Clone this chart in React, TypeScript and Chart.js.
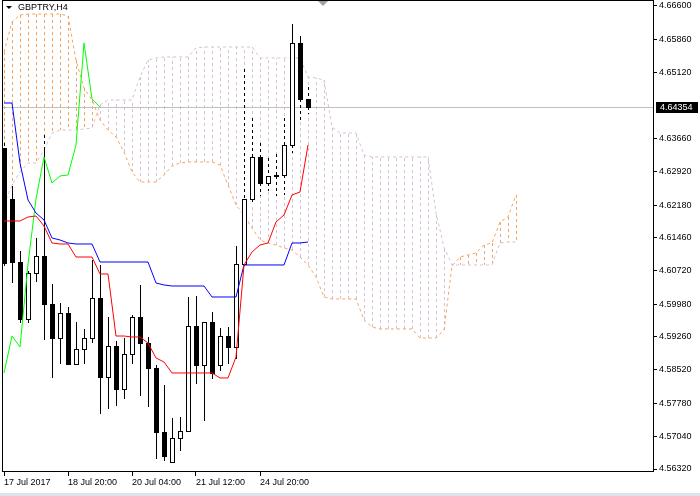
import React, { useEffect, useRef } from 'react';
import { Chart, registerables } from 'chart.js';

Chart.register(...registerables);

const chartTitle = 'GBPTRY,H4';
const xTickIndex = [0, 8, 16, 24, 32];
const xTickLabels = ['17 Jul 2017', '18 Jul 20:00', '20 Jul 04:00', '21 Jul 12:00', '24 Jul 20:00'];
const yTickValues = [4.666, 4.6586, 4.6512, 4.6366, 4.6292, 4.6218, 4.6146, 4.6072, 4.5998, 4.5926, 4.5852, 4.5778, 4.5704, 4.5632];
const currentPrice = 4.64354;
const chikouShift = 26;

const opens = [4.63447, 4.62315, 4.60916, 4.59651, 4.60672, 4.6105, 4.59984, 4.59229, 4.59784, 4.58652, 4.58985, 4.59229, 4.60117, 4.58363, 4.59051, 4.58097, 4.58874, 4.59695, 4.59118, 4.58563, 4.57142, 4.56476, 4.57009, 4.57164, 4.59495, 4.5863, 4.59584, 4.5863, 4.59273, 4.59029, 4.60872, 4.62315, 4.63248, 4.6267, 4.62826, 4.62848, 4.63514, 4.65779, 4.64535];
const highs = [4.63558, 4.62604, 4.61161, 4.60717, 4.61449, 4.63736, 4.60428, 4.60006, 4.59917, 4.59584, 4.59429, 4.60961, 4.6085, 4.59695, 4.59162, 4.59229, 4.5974, 4.60406, 4.59251, 4.5863, 4.58185, 4.57453, 4.57475, 4.60139, 4.60161, 4.59584, 4.59806, 4.59451, 4.59473, 4.61272, 4.65201, 4.64113, 4.63558, 4.63225, 4.63314, 4.64113, 4.662, 4.65934, 4.64802];
const lows = [4.6085, 4.60472, 4.59584, 4.59584, 4.60494, 4.59207, 4.58363, 4.58674, 4.58652, 4.58652, 4.58674, 4.5914, 4.57564, 4.57675, 4.57741, 4.57897, 4.58674, 4.57963, 4.57719, 4.56565, 4.5652, 4.56476, 4.56742, 4.57164, 4.5823, 4.57408, 4.58341, 4.58519, 4.58674, 4.58785, 4.6085, 4.62226, 4.62404, 4.62515, 4.62404, 4.62426, 4.63359, 4.64069, 4.64224];
const closes = [4.60894, 4.60916, 4.59651, 4.60672, 4.6105, 4.59984, 4.59229, 4.59784, 4.58652, 4.58985, 4.59229, 4.60117, 4.58363, 4.59051, 4.58097, 4.58874, 4.59695, 4.59118, 4.58563, 4.57142, 4.56609, 4.57009, 4.57164, 4.59495, 4.5863, 4.59584, 4.58452, 4.59273, 4.59029, 4.60872, 4.62315, 4.63248, 4.6267, 4.62826, 4.62848, 4.63514, 4.65779, 4.64535, 4.64354];

const tenkan = [4.61827, 4.61827, 4.61827, 4.61915, 4.61938, 4.61716, 4.61338, 4.61316, 4.61316, 4.61027, 4.61027, 4.61027, 4.6065, 4.6065, 4.59273, 4.59273, 4.59251, 4.59251, 4.59118, 4.58785, 4.58696, 4.58452, 4.58452, 4.58452, 4.58452, 4.58452, 4.58452, 4.58341, 4.58341, 4.58807, 4.6085, 4.61138, 4.61294, 4.61338, 4.61804, 4.6196, 4.62404, 4.6247, 4.63514];
const kijun = [4.64446, 4.64446, 4.63114, 4.62293, 4.62004, 4.61849, 4.61449, 4.61405, 4.61338, 4.61316, 4.61316, 4.61316, 4.60916, 4.60916, 4.60916, 4.60916, 4.60916, 4.60916, 4.60916, 4.6045, 4.60406, 4.60383, 4.60383, 4.60383, 4.60383, 4.60383, 4.60139, 4.60139, 4.60139, 4.60139, 4.6085, 4.6085, 4.6085, 4.6085, 4.6085, 4.6085, 4.61338, 4.61338, 4.6136];
const spanA = [4.65579, 4.66245, 4.664, 4.66422, 4.66422, 4.66422, 4.66422, 4.66422, 4.66378, 4.65401, 4.64779, 4.64513, 4.64069, 4.63847, 4.63692, 4.63359, 4.62915, 4.62692, 4.62692, 4.62692, 4.62848, 4.63048, 4.63114, 4.63137, 4.63137, 4.63137, 4.63137, 4.6307, 4.62626, 4.62182, 4.6196, 4.61671, 4.61405, 4.61338, 4.61294, 4.61227, 4.61183, 4.61027, 4.6085, 4.60583, 4.60139, 4.60095, 4.60095, 4.60095, 4.60095, 4.59629, 4.59473, 4.59429, 4.59429, 4.59429, 4.59429, 4.59429, 4.59229, 4.59229, 4.59229, 4.59407, 4.60828, 4.61027, 4.61072, 4.61116, 4.61294, 4.61338, 4.61804, 4.61915, 4.62404];
const spanB = [4.62182, 4.62626, 4.62915, 4.63114, 4.63114, 4.63403, 4.6378, 4.63847, 4.63847, 4.63847, 4.63869, 4.63891, 4.64402, 4.64513, 4.64513, 4.64513, 4.64513, 4.65024, 4.65401, 4.65446, 4.65468, 4.65468, 4.65468, 4.65468, 4.65668, 4.6569, 4.6569, 4.6569, 4.6569, 4.6569, 4.6569, 4.6569, 4.65446, 4.65446, 4.65446, 4.65446, 4.65446, 4.65446, 4.65024, 4.65002, 4.64957, 4.63914, 4.6378, 4.6378, 4.6378, 4.63292, 4.63248, 4.63248, 4.63248, 4.63248, 4.63248, 4.63248, 4.63248, 4.63248, 4.62004, 4.61249, 4.6085, 4.6085, 4.6085, 4.6085, 4.6085, 4.6085, 4.61338, 4.6136, 4.6136];

const SANDY = '#F4A460';
const THISTLE = '#D8BFD8';
const FONT = '"Liberation Sans", Arial, sans-serif';

function pts(arr: number[]) {
  return arr.map((v, i) => ({ x: i, y: v }));
}

export default function App() {
  const ref = useRef<HTMLCanvasElement>(null);

  useEffect(() => {
    document.body.style.margin = '0';
    const canvas = ref.current!;
    const chikou = closes.slice(chikouShift).map((v, j) => ({ x: j, y: v }));

    const plugin = {
      id: 'ichimokuDraw',
      beforeDatasetsDraw(chart: any) {
        const { ctx, chartArea: a, scales } = chart;
        const x = scales.x, y = scales.y;
        ctx.save();
        ctx.beginPath();
        ctx.rect(a.left, a.top, a.right - a.left, a.bottom - a.top);
        ctx.clip();
        ctx.lineWidth = 1;
        ctx.setLineDash([3, 3]);
        for (let i = 0; i < spanA.length; i++) {
          const px = Math.round(x.getPixelForValue(i)) + 0.5;
          const ya = Math.round(y.getPixelForValue(spanA[i]));
          const yb = Math.round(y.getPixelForValue(spanB[i]));
          ctx.strokeStyle = spanA[i] > spanB[i] ? SANDY : THISTLE;
          ctx.beginPath();
          ctx.moveTo(px, ya);
          ctx.lineTo(px, yb);
          ctx.stroke();
        }
        ctx.restore();
      },
      afterDatasetDraw(chart: any, args: any) {
        if (args.index !== 3) return;
        const { ctx, chartArea: a, scales } = chart;
        const x = scales.x, y = scales.y;
        ctx.save();
        ctx.beginPath();
        ctx.rect(a.left, a.top, a.right - a.left, a.bottom - a.top);
        ctx.clip();
        const py = Math.round(y.getPixelForValue(currentPrice)) + 0.5;
        ctx.strokeStyle = '#c0c0c0';
        ctx.lineWidth = 1;
        ctx.beginPath();
        ctx.moveTo(a.left, py);
        ctx.lineTo(a.right, py);
        ctx.stroke();

        const seg = (cx: number, y1: number, y2: number, cTop: number, cBot: number) => {
          if (y2 <= y1) return;
          const parts: [number, number, boolean][] = [];
          const inTop = Math.max(y1, cTop);
          const inBot = Math.min(y2, cBot);
          if (y1 < cTop) parts.push([y1, Math.min(y2, cTop), false]);
          if (inBot > inTop) parts.push([inTop, inBot, true]);
          if (y2 > cBot) parts.push([Math.max(y1, cBot), y2, false]);
          for (const [s, e, dashed] of parts) {
            if (dashed) {
              ctx.setLineDash([]);
              ctx.strokeStyle = '#ffffff';
              ctx.beginPath(); ctx.moveTo(cx, s); ctx.lineTo(cx, e); ctx.stroke();
              ctx.setLineDash([3, 3]);
            } else {
              ctx.setLineDash([]);
            }
            ctx.strokeStyle = '#000000';
            ctx.beginPath(); ctx.moveTo(cx, s); ctx.lineTo(cx, e); ctx.stroke();
          }
          ctx.setLineDash([]);
        };

        for (let i = 0; i < closes.length; i++) {
          const X = Math.round(x.getPixelForValue(i));
          const cx = X + 0.5;
          const yO = Math.round(y.getPixelForValue(opens[i]));
          const yC = Math.round(y.getPixelForValue(closes[i]));
          const yH = Math.round(y.getPixelForValue(highs[i]));
          const yL = Math.round(y.getPixelForValue(lows[i]));
          const bTop = Math.min(yO, yC), bBot = Math.max(yO, yC);
          const cTop = Math.round(y.getPixelForValue(Math.max(spanA[i], spanB[i])));
          const cBot = Math.round(y.getPixelForValue(Math.min(spanA[i], spanB[i])));
          seg(cx, yH, bTop, cTop, cBot);
          seg(cx, bBot, yL + 1, cTop, cBot);
          if (closes[i] < opens[i]) {
            ctx.fillStyle = '#000000';
            ctx.fillRect(X - 2, bTop, 5, Math.max(1, bBot - bTop + 1));
          } else {
            ctx.fillStyle = '#ffffff';
            ctx.fillRect(X - 2, bTop, 5, Math.max(1, bBot - bTop + 1));
            ctx.strokeStyle = '#000000';
            ctx.strokeRect(X - 1.5, bTop + 0.5, 4, Math.max(0, bBot - bTop));
          }
        }
        ctx.restore();
      },
      afterDraw(chart: any) {
        const { ctx, chartArea: a, scales } = chart;
        const y = scales.y;
        ctx.save();
        ctx.strokeStyle = '#000000';
        ctx.lineWidth = 1;
        ctx.setLineDash([]);
        ctx.strokeRect(a.left - 0.5, a.top - 0.5, a.right - a.left + 1, a.bottom - a.top + 1);
        ctx.fillStyle = '#000000';
        ctx.beginPath();
        ctx.moveTo(6, 6); ctx.lineTo(12, 6); ctx.lineTo(9, 9); ctx.closePath();
        ctx.fill();
        ctx.font = '9px ' + FONT;
        ctx.textBaseline = 'middle';
        ctx.textAlign = 'left';
        ctx.fillText(chartTitle, 18, 8);
        ctx.fillStyle = '#a0a0a0';
        ctx.beginPath();
        ctx.moveTo(318, 1); ctx.lineTo(328, 1); ctx.lineTo(323, 6); ctx.closePath();
        ctx.fill();
        const py = Math.round(y.getPixelForValue(currentPrice));
        ctx.fillStyle = '#000000';
        ctx.fillRect(a.right + 3, py - 5, 42, 11);
        ctx.fillStyle = '#ffffff';
        ctx.fillText(currentPrice.toFixed(5), a.right + 7, py + 0.5);
        ctx.fillStyle = '#dde3ea';
        ctx.fillRect(0, 493, 700, 3);
        ctx.restore();
      },
    };

    const tickFont = { family: FONT, size: 9 };

    const chart = new Chart(canvas, {
      type: 'line',
      data: {
        datasets: [
          { label: 'Tenkan-sen', data: pts(tenkan), borderColor: '#ff0000', borderWidth: 1, pointRadius: 0, tension: 0, order: 1 },
          { label: 'Kijun-sen', data: pts(kijun), borderColor: '#0000ff', borderWidth: 1, pointRadius: 0, tension: 0, order: 1 },
          { label: 'Chikou Span', data: chikou, borderColor: '#00ff00', borderWidth: 1, pointRadius: 0, tension: 0, order: 1 },
          { label: 'Senkou Span A', data: pts(spanA), borderColor: SANDY, borderWidth: 1, borderDash: [3, 3], pointRadius: 0, tension: 0, order: 2 },
          { label: 'Senkou Span B', data: pts(spanB), borderColor: THISTLE, borderWidth: 1, borderDash: [3, 3], pointRadius: 0, tension: 0, order: 2 },
        ],
      } as any,
      options: {
        animation: false,
        responsive: false,
        maintainAspectRatio: false,
        layout: { padding: { left: 3, top: 1, right: 0, bottom: 0 } },
        plugins: { legend: { display: false }, tooltip: { enabled: false } },
        scales: {
          x: {
            type: 'linear',
            position: 'bottom',
            min: -0.125,
            max: 81.125,
            afterBuildTicks: (s: any) => { s.ticks = xTickIndex.map((v) => ({ value: v })); },
            afterFit: (s: any) => { s.height = 25; s.paddingLeft = 0; s.paddingRight = 0; },
            ticks: {
              callback: (v: any) => { const k = xTickIndex.indexOf(Number(v)); return k >= 0 ? xTickLabels[k] : ''; },
              align: 'start',
              maxRotation: 0,
              minRotation: 0,
              autoSkip: false,
              font: tickFont,
              color: '#000000',
              padding: 1,
            },
            grid: { drawOnChartArea: false, drawTicks: true, tickLength: 5, color: '#000000' },
            border: { display: false },
          },
          y: {
            type: 'linear',
            position: 'right',
            min: 4.562757,
            max: 4.66711,
            afterBuildTicks: (s: any) => { s.ticks = yTickValues.map((v) => ({ value: v })); },
            afterFit: (s: any) => { s.width = 47; s.paddingTop = 0; s.paddingBottom = 0; },
            ticks: {
              callback: (v: any) => Number(v).toFixed(5),
              font: tickFont,
              color: '#000000',
              padding: 2,
            },
            grid: { drawOnChartArea: false, drawTicks: true, tickLength: 4, color: '#000000' },
            border: { display: false },
          },
        },
      } as any,
      plugins: [plugin],
    });
    return () => chart.destroy();
  }, []);

  return (
    <div style={{ width: 700, height: 496, position: 'relative' }}>
      <canvas ref={ref} width={700} height={496} style={{ display: 'block', width: 700, height: 496 }} />
    </div>
  );
}
